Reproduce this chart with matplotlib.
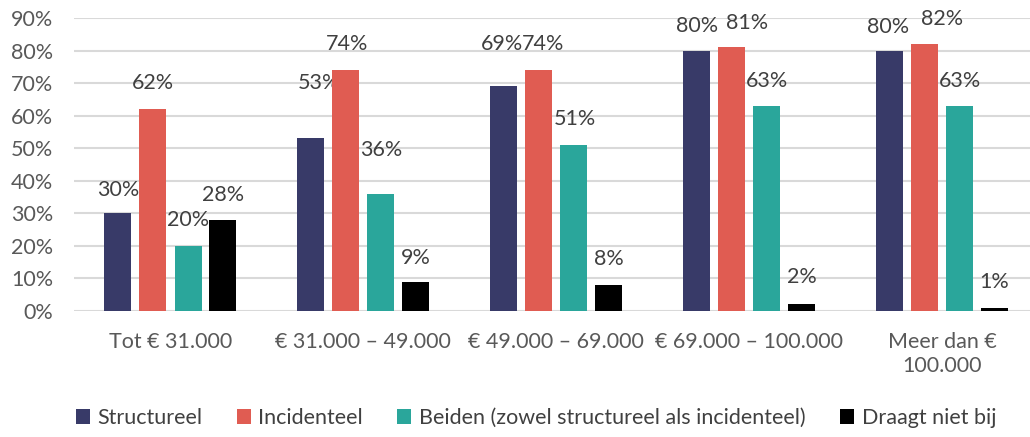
import matplotlib.pyplot as plt
import numpy as np

plt.rcParams['font.family'] = ['Lato', 'DejaVu Sans']

categories = ["Tot € 31.000", "€ 31.000 – 49.000", "€ 49.000 – 69.000",
              "€ 69.000 – 100.000", "Meer dan €\n100.000"]
series_names = ["Structureel", "Incidenteel",
                "Beiden (zowel structureel als incidenteel)", "Draagt niet bij"]
structureel = [30, 53, 69, 80, 80]
incidenteel = [62, 74, 74, 81, 82]
beiden = [20, 36, 51, 63, 63]
draagt_niet_bij = [28, 9, 8, 2, 1]

colors = ["#383A68", "#E05C52", "#2AA69B", "#000000"]

# label placement tweaks (dx, dy in pixels above bar top), per series per group
label_offsets = [
    [(0, 23), (8, 55), (-2, 42), (0, 25), (-2, 24)],
    [(0, 26), (1, 26), (4, 26), (15, 24), (18, 25)],
    [(0, 26), (0, 44), (1, 26), (0, 25), (0, 25)],
    [(0, 25), (0, 24), (0, 26), (0, 27), (0, 26)],
]

fig = plt.figure(figsize=(10.30, 4.37), dpi=100)
ax = fig.add_axes([74 / 1030, 126 / 437, 964.5 / 1030, 293 / 437])

x = np.arange(len(categories))
width = 0.14
shifts = [-0.272, -0.091, 0.091, 0.272]
all_series = [structureel, incidenteel, beiden, draagt_niet_bij]

fs = 15.5
for i, vals in enumerate(all_series):
    bars = ax.bar(x + shifts[i], vals, width, color=colors[i],
                  label=series_names[i], zorder=3)
    for j, b in enumerate(bars):
        dx, dy = label_offsets[i][j]
        ax.annotate(f"{vals[j]}%", (b.get_x() + b.get_width() / 2, b.get_height()),
                    xytext=(dx * 0.72, dy * 0.72), textcoords="offset points",
                    ha="center", va="center", fontsize=fs, color="#404040")

ax.set_ylim(0, 90)
ax.set_xlim(-0.5, len(categories) - 0.5)
ax.set_yticks(range(0, 91, 10))
ax.set_yticklabels([f"{v}%" for v in range(0, 91, 10)])
ax.set_xticks(x)
ax.set_xticklabels(categories, linespacing=1.25)
ax.tick_params(axis="both", length=0, labelsize=fs, colors="#595959")
ax.tick_params(axis="x", pad=15)
ax.tick_params(axis="y", pad=15)
ax.grid(axis="y", color="#D9D9D9", linewidth=1.5, zorder=0)
for s in ax.spines.values():
    s.set_visible(False)

fig.legend(loc="center", bbox_to_anchor=(536 / 1030, 1 - 418 / 437), ncol=4,
           frameon=False, fontsize=fs, handlelength=0.65, handleheight=0.65,
           handletextpad=0.35, columnspacing=1.6, labelcolor="#404040")

fig.savefig("out.png", dpi=100)
